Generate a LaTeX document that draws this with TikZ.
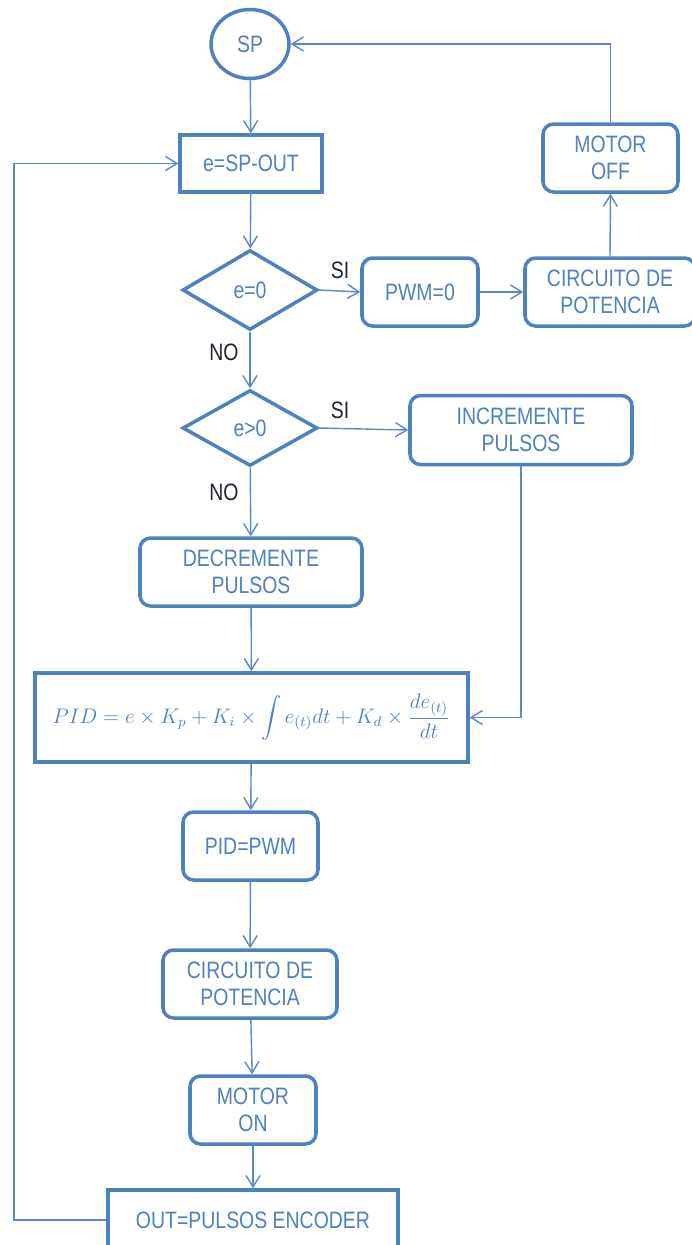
\documentclass[tikz,border=0pt]{standalone}
\usepackage{amsmath,amssymb}
\usepackage{fontspec}
\setmainfont[FakeStretch=0.82]{Liberation Sans}
\usepackage{tikz}
\usetikzlibrary{arrows.meta,positioning,shapes.geometric}
\definecolor{flowblue}{HTML}{4F81BD}
\definecolor{flowline}{HTML}{5A8AC6}
\definecolor{flowdark}{HTML}{1F2633}

\begin{document}
\begin{tikzpicture}[
  >={Straight Barb[length=6.5pt,width=8pt]},
  txt/.style={font=\fontsize{13.5}{15.5}\selectfont, text=flowblue, align=center},
  procbox/.style={txt, rectangle, draw=flowblue, line width=2pt, fill=white, inner sep=0pt},
  roundbox/.style={procbox, rounded corners=6pt},
  decision/.style={txt, diamond, draw=flowblue, line width=2pt, fill=white, inner sep=0pt},
  termin/.style={txt, ellipse, draw=flowblue, line width=2pt, fill=white, inner sep=0pt},
  conn/.style={->, draw=flowline, line width=0.8pt},
  answer/.style={font=\fontsize{13.5}{15.5}\selectfont, text=flowdark}
]
  \useasboundingbox (0,0) rectangle (13.84,-24.9);

  \node[termin, minimum width=1.56cm, minimum height=1.38cm] (sp) at (5.0,-0.88) {SP};
  \node[procbox, minimum width=2.84cm, minimum height=1.14cm] (err) at (5.02,-3.27) {e=SP-OUT};
  \node[decision, minimum width=2.7cm, minimum height=1.6cm] (dzero) at (5.0,-5.8) {e=0};
  \node[roundbox, minimum width=2.32cm, minimum height=1.36cm] (pwmzero) at (8.4,-5.84) {PWM=0};
  \node[roundbox, minimum width=3.4cm, minimum height=1.36cm] (circtop) at (12.2,-5.84) {CIRCUITO DE\\POTENCIA};
  \node[roundbox, minimum width=2.7cm, minimum height=1.36cm] (motoroff) at (12.21,-3.16) {MOTOR\\OFF};
  \node[decision, minimum width=2.7cm, minimum height=1.52cm] (dpos) at (5.0,-8.56) {e>0};
  \node[roundbox, minimum width=4.44cm, minimum height=1.38cm] (inc) at (10.42,-8.6) {INCREMENTE\\PULSOS};
  \node[roundbox, minimum width=4.44cm, minimum height=1.36cm] (dec) at (5.02,-11.44) {DECREMENTE\\PULSOS};
  \node[procbox, minimum width=8.66cm, minimum height=1.78cm, font=\fontsize{11.5}{14}\selectfont] (pid) at (5.03,-14.35)
    {$\displaystyle PID = e \times K_p + K_i \times \int e_{(t)}dt + K_d \times \frac{de_{(t)}}{dt}$};
  \node[roundbox, minimum width=2.7cm, minimum height=1.36cm] (pidpwm) at (5.01,-16.92) {PID=PWM};
  \node[roundbox, minimum width=3.48cm, minimum height=1.36cm] (circbot) at (5.0,-19.68) {CIRCUITO DE\\POTENCIA};
  \node[roundbox, minimum width=2.52cm, minimum height=1.36cm] (motoron) at (5.06,-22.2) {MOTOR\\ON};
  \node[procbox, minimum width=5.8cm, minimum height=1.2cm] (outenc) at (5.06,-24.4) {OUT=PULSOS ENCODER};

  % Decision answers
  \node[answer] (si1) at (6.8,-5.4) {SI};
  \node[answer] (no1) at (4.48,-7.04) {NO};
  \node[answer] (si2) at (6.8,-8.2) {SI};
  \node[answer] (no2) at (4.48,-9.84) {NO};

  % Main flow
  \draw[conn] (sp) -- (err);
  \draw[conn] (err) -- (dzero);
  \draw[conn] (dzero) -- (dpos);
  \draw[conn] (dpos) -- (dec);
  \draw[conn] (dec) -- (pid);
  \draw[conn] (pid) -- (pidpwm);
  \draw[conn] (pidpwm) -- (circbot);
  \draw[conn] (circbot) -- (motoron);
  \draw[conn] (motoron) -- (outenc);

  % Branches
  \draw[conn] (dzero.east) -- (pwmzero.west);
  \draw[conn] (pwmzero.east) -- (circtop.west);
  \draw[conn] (circtop.north) -- (motoroff.south);
  \draw[conn] (motoroff.north) |- (sp.east);
  \draw[conn] (dpos.east) -- (inc.west);
  \draw[conn] (inc.south) |- (pid.east);

  % Feedback loop
  \coordinate (loopl) at (0.28,0);
  \draw[conn] (outenc.west) -- (outenc.west -| loopl) -- (err.west -| loopl) -- (err.west);
\end{tikzpicture}
\end{document}
